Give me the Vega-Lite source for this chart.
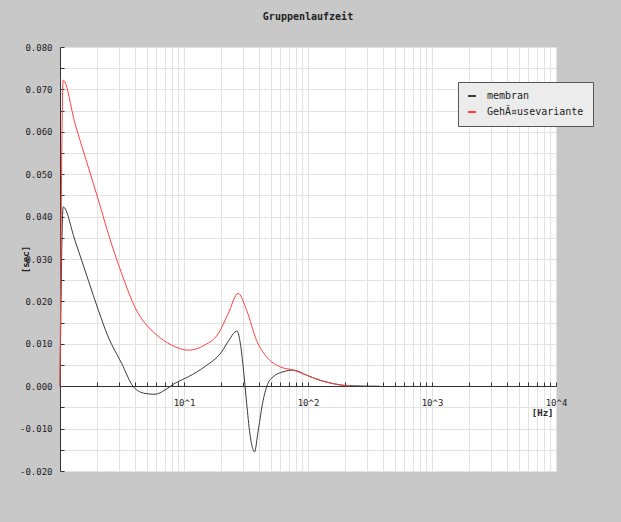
{
  "$schema": "https://vega.github.io/schema/vega-lite/v6.json",
  "width": 496,
  "height": 424,
  "autosize": "none",
  "padding": {"left": 60, "top": 47, "right": 65, "bottom": 51},
  "background": "#c8c8c8",
  "title": {
    "text": "Gruppenlaufzeit",
    "font": "DejaVu Sans Mono",
    "fontSize": 10,
    "fontWeight": "bold",
    "color": "#222222",
    "anchor": "middle",
    "offset": 21
  },
  "config": {
    "view": {"fill": "white", "stroke": null},
    "axis": {
      "labelFont": "DejaVu Sans Mono",
      "labelFontSize": 9,
      "labelColor": "#222222",
      "titleFont": "DejaVu Sans Mono",
      "titleFontSize": 9,
      "titleFontWeight": "bold",
      "titleColor": "#222222",
      "gridColor": "#e2e2e2",
      "gridWidth": 1,
      "domainColor": "#333333",
      "tickColor": "#333333"
    },
    "legend": {
      "labelFont": "DejaVu Sans Mono",
      "labelFontSize": 10,
      "labelColor": "#222222"
    }
  },
  "data": {
    "values": [
      {"f": 1, "v": 0, "s": "membran"},
      {"f": 1.06, "v": 0.0423, "s": "membran"},
      {"f": 1.32, "v": 0.0344, "s": "membran"},
      {"f": 1.69, "v": 0.025, "s": "membran"},
      {"f": 2.04, "v": 0.0179, "s": "membran"},
      {"f": 2.45, "v": 0.0116, "s": "membran"},
      {"f": 3.14, "v": 0.0054, "s": "membran"},
      {"f": 3.9, "v": -0.0001, "s": "membran"},
      {"f": 4.84, "v": -0.0017, "s": "membran"},
      {"f": 5.84, "v": -0.0019, "s": "membran"},
      {"f": 7.02, "v": -0.0009, "s": "membran"},
      {"f": 8.45, "v": 0.0007, "s": "membran"},
      {"f": 10.8, "v": 0.0022, "s": "membran"},
      {"f": 14.7, "v": 0.0046, "s": "membran"},
      {"f": 20.1, "v": 0.0081, "s": "membran"},
      {"f": 23.1, "v": 0.0109, "s": "membran"},
      {"f": 25.8, "v": 0.0128, "s": "membran"},
      {"f": 26.8, "v": 0.013, "s": "membran"},
      {"f": 28.2, "v": 0.0108, "s": "membran"},
      {"f": 30.0, "v": 0.0046, "s": "membran"},
      {"f": 32.0, "v": -0.004, "s": "membran"},
      {"f": 34.0, "v": -0.0112, "s": "membran"},
      {"f": 36.1, "v": -0.015, "s": "membran"},
      {"f": 37.0, "v": -0.0155, "s": "membran"},
      {"f": 39.7, "v": -0.0104, "s": "membran"},
      {"f": 43.5, "v": -0.0033, "s": "membran"},
      {"f": 47.6, "v": 0.0007, "s": "membran"},
      {"f": 52.3, "v": 0.0022, "s": "membran"},
      {"f": 63.1, "v": 0.0034, "s": "membran"},
      {"f": 76, "v": 0.0038, "s": "membran"},
      {"f": 97.5, "v": 0.0026, "s": "membran"},
      {"f": 125, "v": 0.0014, "s": "membran"},
      {"f": 160, "v": 0.0006, "s": "membran"},
      {"f": 218, "v": 0.0001, "s": "membran"},
      {"f": 380, "v": 0.0, "s": "membran"},
      {"f": 1, "v": 0, "s": "GehÃ¤usevariante"},
      {"f": 1.06, "v": 0.0722, "s": "GehÃ¤usevariante"},
      {"f": 1.32, "v": 0.062, "s": "GehÃ¤usevariante"},
      {"f": 1.69, "v": 0.0517, "s": "GehÃ¤usevariante"},
      {"f": 2.04, "v": 0.0439, "s": "GehÃ¤usevariante"},
      {"f": 2.45, "v": 0.036, "s": "GehÃ¤usevariante"},
      {"f": 3.14, "v": 0.0266, "s": "GehÃ¤usevariante"},
      {"f": 4.28, "v": 0.0171, "s": "GehÃ¤usevariante"},
      {"f": 5.0, "v": 0.0144, "s": "GehÃ¤usevariante"},
      {"f": 5.84, "v": 0.0124, "s": "GehÃ¤usevariante"},
      {"f": 7.94, "v": 0.0097, "s": "GehÃ¤usevariante"},
      {"f": 10.8, "v": 0.0085, "s": "GehÃ¤usevariante"},
      {"f": 14.7, "v": 0.0097, "s": "GehÃ¤usevariante"},
      {"f": 18.9, "v": 0.0124, "s": "GehÃ¤usevariante"},
      {"f": 22.7, "v": 0.0171, "s": "GehÃ¤usevariante"},
      {"f": 27.3, "v": 0.0219, "s": "GehÃ¤usevariante"},
      {"f": 32.0, "v": 0.0179, "s": "GehÃ¤usevariante"},
      {"f": 38.5, "v": 0.0108, "s": "GehÃ¤usevariante"},
      {"f": 46.4, "v": 0.0069, "s": "GehÃ¤usevariante"},
      {"f": 59.3, "v": 0.0046, "s": "GehÃ¤usevariante"},
      {"f": 76, "v": 0.0038, "s": "GehÃ¤usevariante"},
      {"f": 97.5, "v": 0.0026, "s": "GehÃ¤usevariante"},
      {"f": 125, "v": 0.0014, "s": "GehÃ¤usevariante"},
      {"f": 160, "v": 0.0006, "s": "GehÃ¤usevariante"},
      {"f": 218, "v": 0.0, "s": "GehÃ¤usevariante"}
    ]
  },
  "layer": [
    {
      "mark": {"type": "point", "opacity": 0},
      "encoding": {
        "x": {
          "field": "f",
          "type": "quantitative",
          "scale": {"type": "log", "domain": [1, 10000], "nice": false},
          "axis": {
            "orient": "top",
            "values": [1,2,3,4,5,6,7,8,9,10,20,30,40,50,60,70,80,90,100,200,300,400,500,600,700,800,900,1000,2000,3000,4000,5000,6000,7000,8000,9000,10000],
            "labels": false,
            "ticks": false,
            "domain": false,
            "grid": true,
            "title": null
          }
        }
      }
    },
    {
      "mark": {"type": "line", "strokeWidth": 1, "interpolate": "monotone"},
      "encoding": {
        "x": {
          "field": "f",
          "type": "quantitative",
          "scale": {"type": "log", "domain": [1, 10000], "nice": false},
          "axis": {
            "orient": "bottom",
            "offset": -85,
            "values": [1,2,3,4,5,6,7,8,9,10,20,30,40,50,60,70,80,90,100,200,300,400,500,600,700,800,900,1000,2000,3000,4000,5000,6000,7000,8000,9000,10000],
            "labelExpr": "datum.value == 10 ? '10^1' : datum.value == 100 ? '10^2' : datum.value == 1000 ? '10^3' : datum.value == 10000 ? '10^4' : ''",
            "grid": false,
            "ticks": true,
            "tickSize": -4,
            "labelPadding": 16,
            "labelFlush": false,
            "labelOverlap": false,
            "title": "[Hz]",
            "titleX": 493,
            "titleY": 26,
            "titleAlign": "right",
            "titleBaseline": "middle"
          }
        },
        "y": {
          "field": "v",
          "type": "quantitative",
          "scale": {"domain": [-0.02, 0.08], "nice": false, "zero": false},
          "axis": {
            "values": [-0.02,-0.015,-0.01,-0.005,0,0.005,0.01,0.015,0.02,0.025,0.03,0.035,0.04,0.045,0.05,0.055,0.06,0.065,0.07,0.075,0.08],
            "labelExpr": "abs(round(datum.value*1000)) % 10 == 0 ? replace(format(datum.value, '.3f'), '\u2212', '-') : ''",
            "grid": true,
            "tickSize": -4,
            "labelPadding": 12,
            "labelOverlap": false,
            "labelFlush": false,
            "title": "[sec]",
            "titleX": -35,
            "titleY": 212,
            "titleAngle": -90,
            "titleAlign": "center",
            "titleBaseline": "middle"
          }
        },
        "color": {
          "field": "s",
          "type": "nominal",
          "scale": {"domain": ["membran", "GehÃ¤usevariante"], "range": ["#3a3a3a", "#ff4040"]},
          "legend": {
            "title": null,
            "orient": "none",
            "legendX": 398,
            "legendY": 35,
            "symbolType": "stroke",
            "symbolSize": 64,
            "symbolStrokeWidth": 2,
            "labelOffset": 10,
            "rowPadding": 6,
            "padding": 9,
            "fillColor": "#ececec",
            "strokeColor": "#555555"
          }
        }
      }
    }
  ],
  "resolve": {"axis": {"x": "independent"}}
}
